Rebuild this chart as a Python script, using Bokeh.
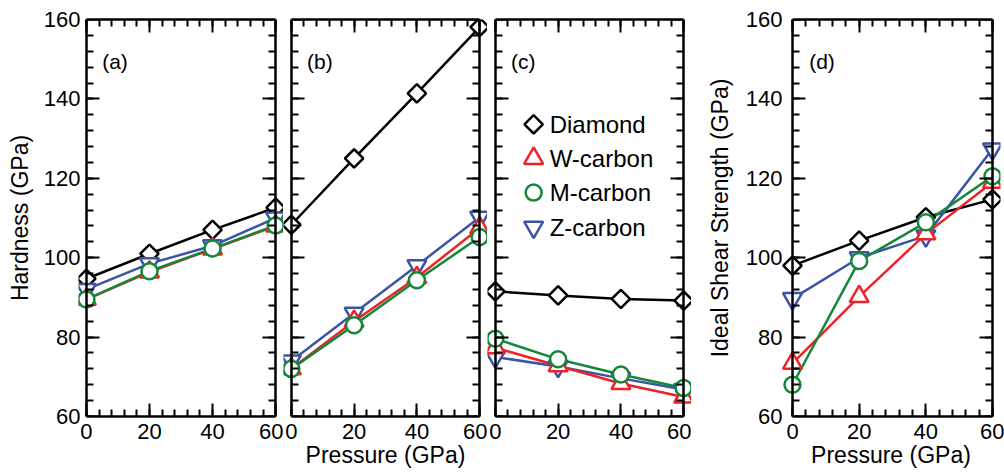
import math
from bokeh.plotting import figure
from bokeh.layouts import row
from bokeh.models import Range1d, LinearAxis, FixedTicker, Label
from bokeh.embed import file_html
from bokeh.resources import INLINE
from bokeh.core.properties import value

# ---------------- data ----------------
pressure = [0, 20, 40, 60]
series_names = ["Diamond", "W-carbon", "M-carbon", "Z-carbon"]

a_diamond = [94.7, 101.0, 107.0, 112.6]
a_wcarbon = [89.5, 96.4, 102.2, 108.0]
a_mcarbon = [89.5, 96.6, 102.3, 108.1]
a_zcarbon = [92.0, 98.5, 103.0, 110.0]

b_diamond = [108.3, 125.0, 141.4, 158.1]
b_wcarbon = [72.0, 84.0, 95.0, 107.5]
b_mcarbon = [72.0, 83.0, 94.3, 105.2]
b_zcarbon = [74.0, 86.0, 98.0, 110.2]

c_diamond = [91.5, 90.5, 89.6, 89.2]
c_wcarbon = [77.3, 72.8, 68.3, 64.9]
c_mcarbon = [79.6, 74.4, 70.6, 67.2]
c_zcarbon = [75.0, 72.6, 69.6, 66.8]

d_diamond = [98.0, 104.3, 110.2, 114.7]
d_wcarbon = [73.4, 90.2, 106.0, 119.0]
d_mcarbon = [68.0, 99.2, 108.9, 120.5]
d_zcarbon = [89.7, 100.0, 105.5, 127.4]

x_ticks = [0, 20, 40, 60]
x_minor = list(range(0, 61, 4))
y_ticks = [60, 80, 100, 120, 140, 160]
y_minor = list(range(60, 161, 4))

# ---------------- style ----------------
FONT = "Liberation Sans"
COLORS = {"Diamond": "black", "W-carbon": "#ee2229", "M-carbon": "#13883a", "Z-carbon": "#3c54a4"}
MARKERS = {"Diamond": ("square", math.pi / 4, 13), "W-carbon": ("triangle", 0, 19),
           "M-carbon": ("circle", 0, 16), "Z-carbon": ("inverted_triangle", 0, 19)}
DRAW_ORDER = ["Diamond", "Z-carbon", "W-carbon", "M-carbon"]
H = 474
TOP = 19
BOTTOM = 58


def new_axis(kind, **kw):
    if kind == "x":
        t = FixedTicker(ticks=x_ticks, minor_ticks=x_minor)
    else:
        t = FixedTicker(ticks=y_ticks, minor_ticks=y_minor)
    return LinearAxis(ticker=t, **kw)


def style_axis(ax, labels=True, line=True):
    if line:
        ax.axis_line_width = 2.5
        ax.axis_line_color = "black"
        ax.major_tick_in = 13
        ax.major_tick_out = 0
        ax.minor_tick_in = 7
        ax.minor_tick_out = 0
        ax.major_tick_line_width = 2
        ax.minor_tick_line_width = 2
        ax.major_tick_line_color = "black"
        ax.minor_tick_line_color = "black"
    else:
        ax.axis_line_color = None
        ax.major_tick_line_color = None
        ax.minor_tick_line_color = None
        ax.major_tick_in = 0
        ax.major_tick_out = 0
        ax.minor_tick_in = 0
        ax.minor_tick_out = 0
    ax.major_label_text_font = FONT
    ax.major_label_text_color = "black"
    ax.axis_label_text_font = FONT
    ax.axis_label_text_font_style = "normal"
    ax.axis_label_text_font_size = "23px"
    ax.axis_label_text_color = "black"
    if labels:
        ax.major_label_text_font_size = "22px"
    else:
        ax.major_label_text_font_size = "0px"
        ax.major_label_standoff = 0


def make_panel(data, tag, width, border_left, border_right, pad_l, pad_r,
               ylabel=None, xlabel=None, ylabels=False, label_gap=-2, ylabel_standoff=8):
    p = figure(width=width, height=H, x_range=Range1d(-pad_l, 60 + pad_r), y_range=Range1d(60, 160),
               output_backend="svg", toolbar_location=None,
               x_axis_location=None, y_axis_location=None,
               min_border_left=border_left, min_border_right=border_right,
               min_border_top=TOP, min_border_bottom=BOTTOM,
               outline_line_color=None, border_fill_color="white", background_fill_color="white")
    p.grid.visible = False

    bottom = new_axis("x", bounds=(0, 60))
    style_axis(bottom, labels=True)
    bottom.major_label_standoff = 7
    if xlabel:
        bottom.axis_label = xlabel
        bottom.axis_label_standoff = 0
    p.add_layout(bottom, "below")

    top = new_axis("x", bounds=(0, 60))
    style_axis(top, labels=False)
    p.add_layout(top, "above")

    # y tick labels / title on a plain axis at the frame edge
    if ylabels:
        lab = new_axis("y")
        style_axis(lab, labels=True, line=False)
        lab.major_label_standoff = label_gap
        if ylabel:
            lab.axis_label = ylabel
            lab.axis_label_standoff = ylabel_standoff
        p.add_layout(lab, "left")

    # box lines with inward ticks at x = 0 and x = 60
    left = new_axis("y", bounds=(60, 160), fixed_location=0)
    style_axis(left, labels=False)
    p.add_layout(left, "left")

    right = new_axis("y", bounds=(60, 160), fixed_location=60)
    style_axis(right, labels=False)
    p.add_layout(right, "right")

    for name in DRAW_ORDER:
        p.line(pressure, data[name], line_color=COLORS[name], line_width=2.5)
    for name in DRAW_ORDER:
        mk, ang, sz = MARKERS[name]
        p.scatter(pressure, data[name], marker=mk, angle=ang, size=sz,
                  line_color=COLORS[name], line_width=2.5, fill_color="white")

    p.add_layout(Label(x=5, y=149.4, text=tag, text_font=FONT, text_font_size="21px",
                       text_baseline="middle", text_align="left", text_color="black"))
    return p


pa = make_panel({"Diamond": a_diamond, "W-carbon": a_wcarbon, "M-carbon": a_mcarbon, "Z-carbon": a_zcarbon},
                "(a)", 283, 78, 0, 2.5, 2.5, ylabel="Hardness (GPa)", ylabels=True,
                label_gap=-2, ylabel_standoff=8)
pb = make_panel({"Diamond": b_diamond, "W-carbon": b_wcarbon, "M-carbon": b_mcarbon, "Z-carbon": b_zcarbon},
                "(b)", 204, 0, 0, 2.5, 2.5, xlabel="Pressure (GPa)")
pc = make_panel({"Diamond": c_diamond, "W-carbon": c_wcarbon, "M-carbon": c_mcarbon, "Z-carbon": c_zcarbon},
                "(c)", 204, 0, 0, 2.5, 2.5)
pd_ = make_panel({"Diamond": d_diamond, "W-carbon": d_wcarbon, "M-carbon": d_mcarbon, "Z-carbon": d_zcarbon},
                 "(d)", 313, 90, 4, 3.3, 2.4, ylabel="Ideal Shear Strength (GPa)", xlabel="Pressure (GPa)",
                 ylabels=True, label_gap=-1, ylabel_standoff=10)

# legend drawn inside panel (c)
leg_y = [133.6, 125.0, 116.4, 107.7]
for name, yy in zip(series_names, leg_y):
    mk, ang, sz = MARKERS[name]
    pc.scatter([12.2], [yy], marker=mk, angle=ang, size=sz, line_color=COLORS[name],
               line_width=2.5, fill_color="white")
pc.text(x=[17.3] * 4, y=leg_y, text=series_names, text_font=value(FONT), text_font_size=value("24px"),
        text_baseline="middle", text_align="left", text_color="black")

layout = row(pa, pb, pc, pd_, spacing=0)
open("out.html", "w").write(file_html(layout, INLINE))
